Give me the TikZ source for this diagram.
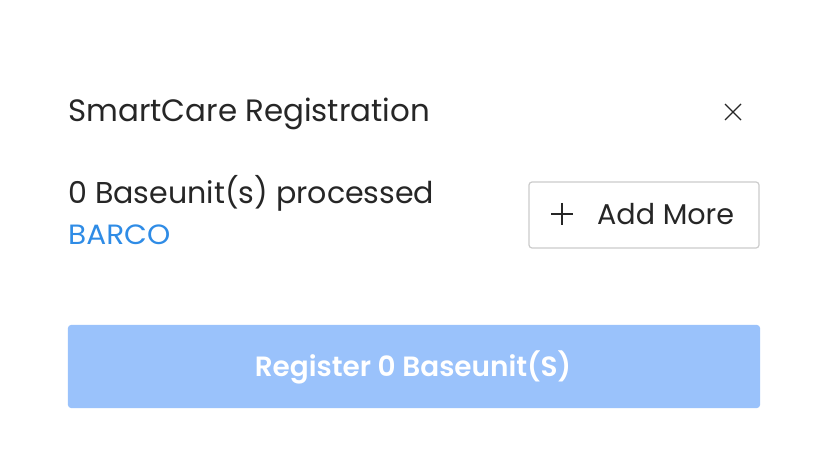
\documentclass[tikz,border=0pt]{standalone}
\usepackage{fontspec}
\setmainfont{Poppins}
\newfontfamily\semib{Poppins SemiBold}
\definecolor{txt}{HTML}{262626}
\definecolor{blu}{HTML}{2F8CE6}
\definecolor{btn}{HTML}{9AC2FB}
\definecolor{brd}{HTML}{CCCCCC}
\begin{document}
\begin{tikzpicture}[x=1bp,y=-1bp,
  lbl/.style={anchor=base west,inner sep=0pt,text=txt},
  ]
\useasboundingbox (0,0) rectangle (827,474);
\fill[white] (0,0) rectangle (827,474);
\node[lbl,font=\fontsize{31}{36}\selectfont] (title) at (68,122) {SmartCare Registration};
\node[inner sep=0pt] (close) at (733,112) {};
\draw[txt,line width=1.3bp] (725,104) -- (741,120) (741,104) -- (725,120);
\node[lbl,font=\fontsize{30.2}{36}\selectfont] (proc) at (68,204) {0 Baseunit(s) processed};
\node[lbl,text=blu,font=\fontsize{28}{30}\selectfont] (barco) at (68,245) {\scalebox{1.06}[1]{BARCO}};
\node[draw=brd,line width=1.2bp,rounded corners=3bp,minimum width=230bp,minimum height=66bp,inner sep=0pt] (add) at (644,215) {};
\draw[txt,line width=1.8bp] (551,214) -- (573,214) (562,203) -- (562,225);
\node[lbl,font=\fontsize{28.7}{36}\selectfont] (addt) at (597,225) {Add More};
\node[fill=btn,rounded corners=3bp,minimum width=692bp,minimum height=83bp,inner sep=0pt] (reg) at (414,366.5) {};
\node[anchor=base,inner sep=0pt,text=white,font=\fontsize{28}{34}\semib] (regt) at (413,377) {Register 0 Baseunit(S)};
\end{tikzpicture}
\end{document}
